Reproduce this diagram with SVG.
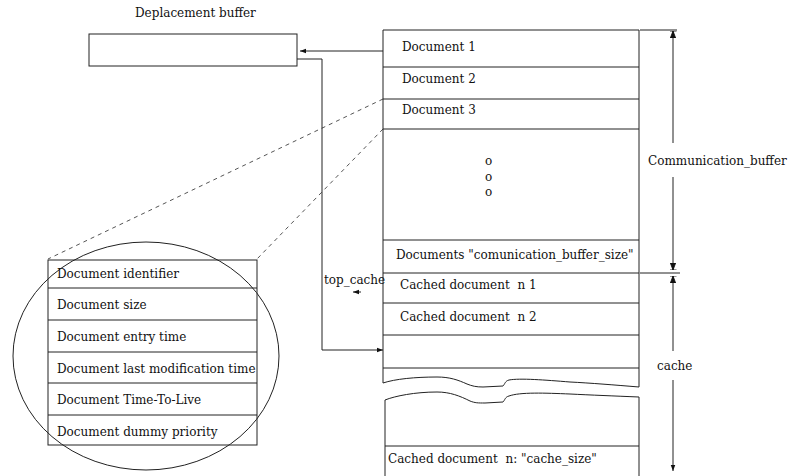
<svg xmlns="http://www.w3.org/2000/svg" width="792" height="476" viewBox="0 0 792 476">
<defs>
<style>
text{font-family:"DejaVu Serif","Liberation Serif",serif;font-size:12px;fill:#111}
.ln{fill:none;stroke:#222;stroke-width:1}
.box{fill:#fff;stroke:#222;stroke-width:1}
.dash{fill:none;stroke:#555;stroke-width:1;stroke-dasharray:4 4}
</style>
<marker id="ah" viewBox="0 0 8 8" refX="8" refY="4" markerWidth="6" markerHeight="6" orient="auto" markerUnits="userSpaceOnUse">
<path d="M0,1 L8,4 L0,7 Z" fill="#111"/>
</marker>
<marker id="tick" viewBox="0 0 8 8" refX="8" refY="4" markerWidth="7" markerHeight="7" orient="auto" markerUnits="userSpaceOnUse">
<path d="M0,1 L8,4 L0,7 Z M8,0 L8,8" fill="#111" stroke="#111" stroke-width="1"/>
</marker>
</defs>
<rect width="792" height="476" fill="#fff"/>

<g id="detail-ellipse">
<ellipse cx="146" cy="356" rx="133" ry="114" class="ln"/>
</g>

<g id="connectors">
<path class="dash" d="M383,99 L48,259"/>
<path class="dash" d="M383,129 L257,259"/>
<path class="ln" d="M383,51 L300,51" marker-end="url(#ah)"/>
<path class="ln" d="M297,59 L322,59 L322,350 L383,350" marker-end="url(#ah)"/>
<path class="ln" d="M361,292 L353,292" marker-end="url(#ah)"/>
<path class="ln" d="M640,30 L677,30"/>
<path class="ln" d="M640,273 L680,273"/>
<path class="ln" d="M673,143 L673,31" marker-end="url(#tick)"/>
<path class="ln" d="M673,177 L673,270" marker-end="url(#tick)"/>
<path class="ln" d="M673,351 L673,276" marker-end="url(#tick)"/>
<path class="ln" d="M673,380 L673,471" marker-end="url(#ah)"/>
</g>

<g id="deplacement-buffer">
<text x="135" y="17">Deplacement buffer</text>
<rect x="89" y="34" width="208" height="32" class="box"/>
</g>

<g id="communication-buffer">
<path class="box" d="M383,30 L639,30 L639,273 L383,273 Z"/>
<path class="ln" d="M383,67 L639,67 M383,99 L639,99 M383,129 L639,129 M383,240 L639,240"/>
<text x="402" y="51">Document 1</text>
<text x="402" y="83">Document 2</text>
<text x="402" y="114">Document 3</text>
<text x="485" y="165">o</text>
<text x="485" y="181">o</text>
<text x="485" y="196">o</text>
<text x="396" y="259">Documents "comunication_buffer_size"</text>
</g>

<g id="cache-upper">
<path class="ln" d="M383,273 L383,383 M639,273 L639,387 M383,303 L639,303 M383,335 L639,335 M383,368 L639,368"/>
<path class="ln" d="M383,383 C395,379 415,377 437,377 C450,377 458,380 467,384 C472,386 476,387 483,387 L503,386 C505,384 505,381 509,380 C520,378 545,380 570,382 C590,383 615,385 639,387"/>
<text x="400" y="289" xml:space="preserve">Cached document  n 1</text>
<text x="400" y="321" xml:space="preserve">Cached document  n 2</text>
</g>

<g id="cache-lower">
<path class="ln" d="M385,476 L385,400 C395,396 415,392 437,392 C450,392 460,396 470,401 C475,403 478,403 485,403 L503,402 C505,400 505,397 509,396 C520,392 545,393 570,394 C590,395 615,396 639,397 L639,476"/>
<path class="ln" d="M385,446 L639,446"/>
<text x="388" y="463" xml:space="preserve">Cached document  n: "cache_size"</text>
</g>

<g id="document-record">
<rect x="48" y="260" width="209" height="185" class="box" fill-opacity="0"/>
<path class="ln" d="M48,288 L257,288 M48,320 L257,320 M48,352 L257,352 M48,383 L257,383 M48,415 L257,415"/>
<text x="57" y="278">Document identifier</text>
<text x="57" y="309">Document size</text>
<text x="57" y="341">Document entry time</text>
<text x="57" y="373">Document last modification time</text>
<text x="57" y="404">Document Time-To-Live</text>
<text x="57" y="436">Document dummy priority</text>
</g>

<g id="labels">
<text x="324" y="284">top_cache</text>
<text x="648" y="165">Communication_buffer</text>
<text x="657" y="370">cache</text>
</g>
</svg>
